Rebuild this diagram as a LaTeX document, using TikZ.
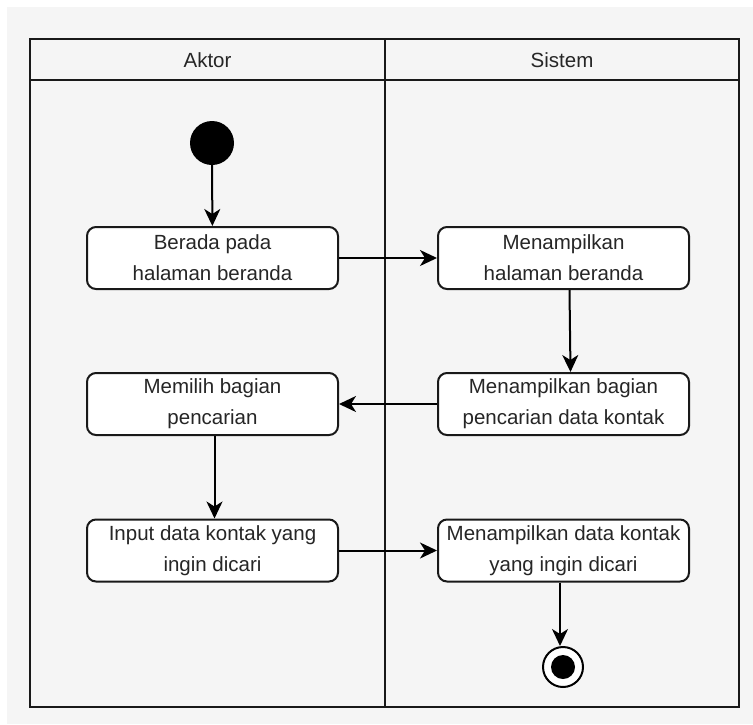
\documentclass[tikz,border=0pt]{standalone}
\usepackage{fontspec}
\setmainfont{Liberation Sans}
\usetikzlibrary{arrows.meta}
\definecolor{canvas}{HTML}{F5F5F5}
\definecolor{ink}{HTML}{262626}
\tikzset{
  lanerule/.style={line width=2pt, draw=black!90},
  action/.style={draw=black!90, line width=2pt, fill=white, rounded corners=9pt,
    minimum width=251pt, minimum height=62pt, inner sep=0pt, align=center,
    text=ink, font=\fontsize{20.5}{31}\selectfont},
  lanetitle/.style={text=ink, font=\fontsize{20.5}{31}\selectfont, inner sep=0pt},
  flow/.style={line width=2pt, draw=black, -{Stealth[length=17pt, width=16pt, inset=5pt]}},
}
\begin{document}
\begin{tikzpicture}[x=1pt, y=-1pt]
  % page and canvas
  \useasboundingbox (0,0) rectangle (753,724);
  \fill[white] (0,0) rectangle (753,724);
  \fill[canvas] (7,7) rectangle (753,724);

  % swimlane frame
  \draw[lanerule] (30,39) rectangle (739,707);
  \draw[lanerule] (30,80) -- (739,80);
  \draw[lanerule] (385,39) -- (385,707);
  \node[lanetitle] (aktor) at (207.5,60) {Aktor};
  \node[lanetitle] (sistem) at (562,60) {Sistem};

  % initial and final states
  \node[circle, fill=black, minimum size=44pt, inner sep=0pt] (start) at (212,143) {};
  \node[circle, draw=black, line width=2pt, fill=white, minimum size=40pt, inner sep=0pt] (finish) at (563,667) {};
  \node[circle, fill=black, minimum size=24pt, inner sep=0pt] (finishdot) at (563,667) {};

  % actions
  \node[action] (berada) at (212.5,258) {Berada pada\\halaman beranda};
  \node[action] (tampilberanda) at (563.5,258) {Menampilkan\\halaman beranda};
  \node[action] (tampilcari) at (563.5,404) {Menampilkan bagian\\pencarian data kontak};
  \node[action] (pilih) at (212.5,404) {Memilih bagian\\pencarian};
  \node[action] (input) at (212.5,550.5) {Input data kontak yang\\ingin dicari};
  \node[action] (hasil) at (563.5,550.5) {Menampilkan data kontak\\yang ingin dicari};

  % control flow
  \draw[flow] (start) -- (berada);
  \draw[flow] (berada) -- (tampilberanda);
  \draw[flow] ([xshift=6pt]tampilberanda.south) -- ([xshift=7pt]tampilcari.north);
  \draw[flow] (tampilcari) -- (pilih);
  \draw[flow] ([xshift=2pt]pilih.south) -- ([xshift=2pt]input.north);
  \draw[flow] (input) -- (hasil);
  \draw[flow] ([xshift=-3.5pt]hasil.south) -- ([xshift=-3pt]finish.north);
\end{tikzpicture}
\end{document}
